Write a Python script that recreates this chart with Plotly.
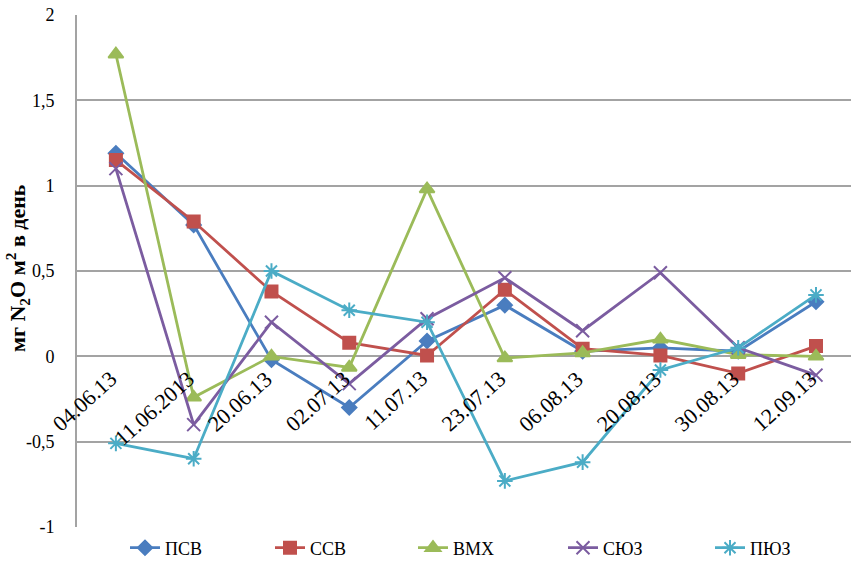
import plotly.graph_objects as go

# Sampling dates (category axis)
dates = ["04.06.13", "11.06.2013", "20.06.13", "02.07.13", "11.07.13",
         "23.07.13", "06.08.13", "20.08.13", "30.08.13", "12.09.13"]

# N2O flux, mg N2O per m2 per day, for each plot
psv = [1.19, 0.77, -0.02, -0.30, 0.09, 0.30, 0.03, 0.05, 0.03, 0.32]
ssv = [1.15, 0.79, 0.38, 0.08, 0.005, 0.39, 0.045, 0.005, -0.10, 0.06]
vmh = [1.77, -0.24, 0.0, -0.065, 0.98, -0.01, 0.02, 0.10, 0.01, 0.0]
syuz = [1.10, -0.40, 0.20, -0.16, 0.22, 0.46, 0.15, 0.49, 0.05, -0.11]
pyuz = [-0.51, -0.60, 0.50, 0.27, 0.20, -0.73, -0.62, -0.08, 0.05, 0.36]

series_names = ["ПСВ", "ССВ", "ВМХ", "СЮЗ", "ПЮЗ"]

y_ticks = [-1, -0.5, 0, 0.5, 1, 1.5, 2]
y_ticktext = ["-1", "-0,5", "0", "0,5", "1", "1,5", "2"]

y_title = "<b>мг N<sub>2</sub>O м<sup>2</sup> в день</b>"

serif = "Liberation Serif"

W, H = 851, 569
L, R, T, B = 77, 0, 15, 42
plot_w = W - L - R
plot_h = H - T - B

styles = [
    dict(color="#4A7DBF", symbol="diamond", size=11),
    dict(color="#C0504D", symbol="square", size=12),
    dict(color="#9BBB59", symbol="triangle-up", size=13),
    dict(color="#7B5CA0", symbol="x-thin-open", size=13),
    dict(color="#4BACC6", symbol="asterisk-open", size=13),
]

# left pixel of each legend entry's text along the bottom row
legend_text_px = [167, 312, 455, 605, 752]
legend_ids = ["legend", "legend2", "legend3", "legend4", "legend5"]

fig = go.Figure()
x_idx = list(range(len(dates)))
for name, vals, st, lid in zip(series_names, [psv, ssv, vmh, syuz, pyuz],
                               styles, legend_ids):
    fig.add_trace(go.Scatter(
        x=x_idx, y=vals, name=name, mode="lines+markers", legend=lid,
        line=dict(color=st["color"], width=2.8),
        marker=dict(symbol=st["symbol"], size=st["size"], color=st["color"],
                    line=dict(color=st["color"], width=2)),
    ))

# Category labels sit just under the zero line, rotated
for i, d in enumerate(dates):
    fig.add_annotation(
        x=i, y=0, xref="x", yref="y", text=d, showarrow=False,
        textangle=-42, xanchor="right", yanchor="top",
        xshift=8, yshift=-7,
        font=dict(family=serif, size=22, color="#000000"),
    )

# Vertical axis title, centred on the plot height
fig.add_annotation(
    x=(17 - L) / plot_w, y=(H - B - 268) / plot_h, xref="paper", yref="paper",
    text=y_title, showarrow=False, textangle=-90,
    xanchor="center", yanchor="middle",
    font=dict(family=serif, size=22, color="#000000"),
)

legends = {}
for lid, px in zip(legend_ids, legend_text_px):
    legends[lid] = dict(
        orientation="h", x=(px - 42 - L) / plot_w, xanchor="left",
        y=-21 / plot_h, yanchor="middle",
        font=dict(family=serif, size=18, color="#000000"),
        bgcolor="rgba(0,0,0,0)", borderwidth=0,
    )

fig.update_layout(
    width=W, height=H,
    margin=dict(l=L, r=R, t=T, b=B, autoexpand=False),
    paper_bgcolor="white", plot_bgcolor="white",
    showlegend=True,
    xaxis=dict(
        range=[-0.5, 9.45], showticklabels=False, showgrid=False,
        zeroline=False, showline=False, fixedrange=True,
    ),
    yaxis=dict(
        range=[-1, 2], tickvals=y_ticks, ticktext=y_ticktext,
        showgrid=True, gridcolor="#A3A3A3", gridwidth=1.6,
        zeroline=False, showline=True, linecolor="#A3A3A3", linewidth=1.6,
        ticks="", ticklabelstandoff=17,
        tickfont=dict(family=serif, size=18, color="#000000"),
    ),
    **legends,
)

fig.write_html("out.html")
